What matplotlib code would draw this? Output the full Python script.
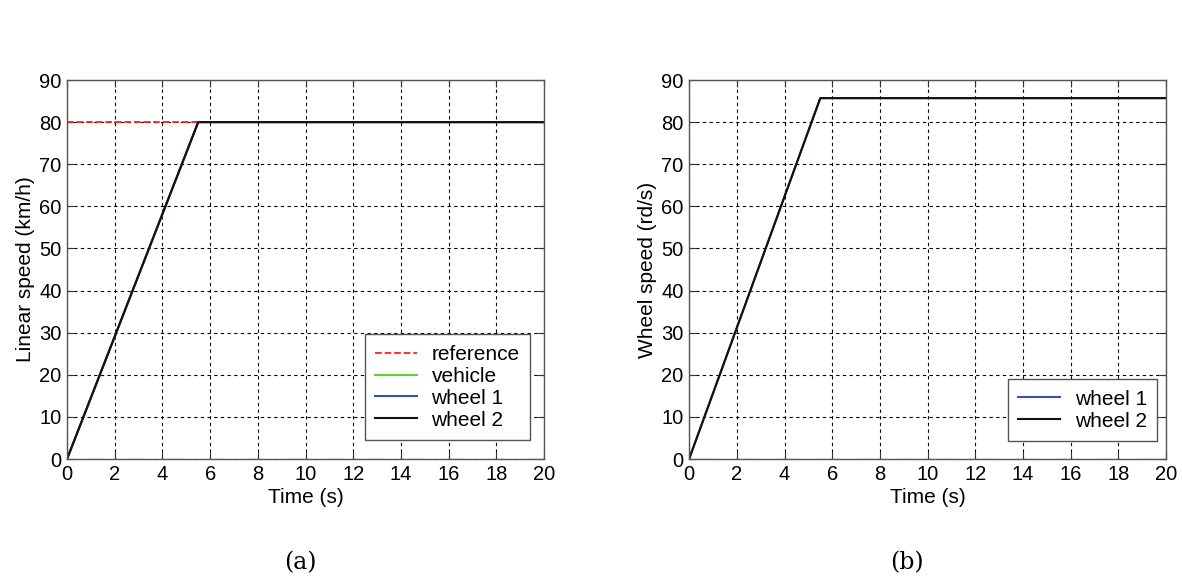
import matplotlib
matplotlib.use("Agg")
import matplotlib.pyplot as plt

plt.rcParams['font.family'] = ['Liberation Sans', 'DejaVu Sans']

# (a) linear speed, km/h
t_ref = [0, 20]
v_ref = [80, 80]
t_lin = [0, 5.5, 20]
v_vehicle = [0, 80, 80]
v_wheel1 = [0, 80, 80]
v_wheel2 = [0, 80, 80]

# (b) wheel speed, rd/s
t_wh = [0, 5.5, 20]
w_wheel1 = [0, 85.7, 85.7]
w_wheel2 = [0, 85.7, 85.7]

xticks = list(range(0, 21, 2))
yticks = list(range(0, 91, 10))


def style_axes(ax):
    ax.set_xlim(0, 20)
    ax.set_ylim(0, 90)
    ax.set_xticks(xticks)
    ax.set_yticks(yticks)
    ax.grid(True, color='black', linestyle=(0, (3, 3)), linewidth=0.8)
    ax.tick_params(direction='in', length=5, labelsize=14.5, pad=4,
                   top=True, right=True, color='#333333')
    for s in ax.spines.values():
        s.set_color('#555555')
        s.set_linewidth(1.0)
    ax.set_xlabel('Time (s)', fontsize=15, labelpad=3)


def add_legend(ax, anchor):
    leg = ax.legend(loc='lower right', bbox_to_anchor=anchor, borderaxespad=0,
                    fontsize=15, frameon=True, fancybox=False, framealpha=1,
                    edgecolor='#555555', handlelength=2.0, handletextpad=0.7,
                    labelspacing=0.14, borderpad=0.5)
    leg.get_frame().set_linewidth(1.0)
    return leg


fig = plt.figure(figsize=(11.82, 5.84), dpi=100)
ax1 = fig.add_axes([0.0567, 0.214, 0.4036, 0.649])
ax2 = fig.add_axes([0.583, 0.214, 0.4036, 0.649])

ax1.plot(t_ref, v_ref, color='#ff2020', linestyle='--', linewidth=1.3, label='reference')
ax1.plot(t_lin, v_vehicle, color='#66cc33', linewidth=1.5, label='vehicle')
ax1.plot(t_lin, v_wheel1, color='#3355aa', linewidth=1.5, label='wheel 1')
ax1.plot(t_lin, v_wheel2, color='#111111', linewidth=1.5, label='wheel 2')
style_axes(ax1)
ax1.set_ylabel('Linear speed (km/h)', fontsize=15, labelpad=3)
add_legend(ax1, (0.9706, 0.050))

ax2.plot(t_wh, w_wheel1, color='#3355aa', linewidth=1.5, label='wheel 1')
ax2.plot(t_wh, w_wheel2, color='#111111', linewidth=1.5, label='wheel 2')
style_axes(ax2)
ax2.set_ylabel('Wheel speed (rd/s)', fontsize=15, labelpad=3)
add_legend(ax2, (0.981, 0.0475))

fig.text(0.254, 0.025, '(a)', fontsize=17, family='DejaVu Serif', ha='center')
fig.text(0.767, 0.025, '(b)', fontsize=17, family='DejaVu Serif', ha='center')

fig.savefig('out.png', dpi=100)
